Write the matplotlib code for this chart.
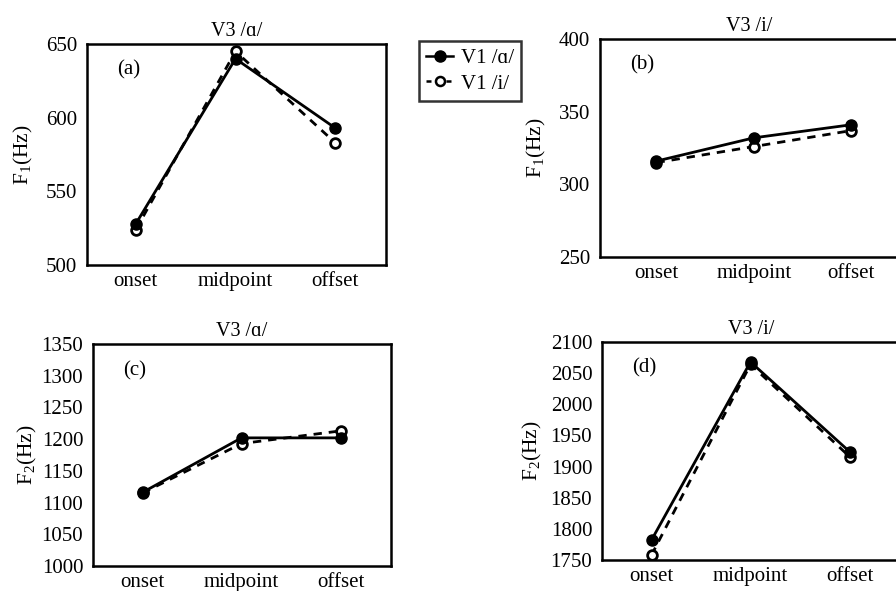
import matplotlib
matplotlib.use("Agg")
import matplotlib.pyplot as plt
from matplotlib.lines import Line2D

plt.rcParams['font.family'] = ['Liberation Serif', 'DejaVu Serif']
plt.rcParams['mathtext.fontset'] = 'custom'
plt.rcParams['mathtext.rm'] = 'Liberation Serif'

categories = ['onset', 'midpoint', 'offset']

# (a) F1, V3 /ɑ/
a_v1a = [528, 640, 593]
a_v1i = [524, 645, 583]
# (b) F1, V3 /i/
b_v1a = [316, 332, 341]
b_v1i = [315, 326, 337]
# (c) F2, V3 /ɑ/
c_v1a = [1116, 1202, 1202]
c_v1i = [1115, 1193, 1213]
# (d) F2, V3 /i/
d_v1a = [1782, 2068, 1924]
d_v1i = [1758, 2064, 1916]

titles = ['V3 /ɑ/', 'V3 /i/', 'V3 /ɑ/', 'V3 /i/']
panel_labels = ['(a)', '(b)', '(c)', '(d)']
ylabels = [r'F$_\mathregular{1}$(Hz)', r'F$_\mathregular{1}$(Hz)',
           r'F$_\mathregular{2}$(Hz)', r'F$_\mathregular{2}$(Hz)']
yticks_list = [[500, 550, 600, 650],
               [250, 300, 350, 400],
               [1000, 1050, 1100, 1150, 1200, 1250, 1300, 1350],
               [1750, 1800, 1850, 1900, 1950, 2000, 2050, 2100]]
series = [(a_v1a, a_v1i), (b_v1a, b_v1i), (c_v1a, c_v1i), (d_v1a, d_v1i)]

W, H = 896, 591
fig = plt.figure(figsize=(W / 100, H / 100), dpi=100)

rects = [(87, 44, 299, 221), (600, 39, 299, 218),
         (93, 344, 298, 222), (602, 342, 299, 218)]
xlims = [(-0.49, 2.51), (-0.58, 2.49), (-0.5, 2.51), (-0.5, 2.52)]
labelpads = [8, 8, 2, 5]
fs = 15

for i in range(4):
    l, t, w, h = rects[i]
    ax = fig.add_axes([l / W, 1 - (t + h) / H, w / W, h / H])
    x = list(range(len(categories)))
    s1, s2 = series[i]
    ax.plot(x, s2, color='black', lw=2.0, ls=(0, (3, 2.5)), marker='o',
            markersize=7, markerfacecolor='white', markeredgecolor='black',
            markeredgewidth=2.0, zorder=3)
    ax.plot(x, s1, color='black', lw=2.0, ls='-', marker='o',
            markersize=8, markerfacecolor='black', markeredgecolor='black',
            zorder=4)
    ax.set_xlim(*xlims[i])
    yt = yticks_list[i]
    ax.set_ylim(yt[0], yt[-1])
    ax.set_yticks(yt)
    ax.set_xticks(x)
    ax.set_xticklabels(categories, fontsize=fs)
    ax.tick_params(axis='y', labelsize=fs, length=0, pad=7)
    ax.tick_params(axis='x', length=0, pad=5)
    for sp in ax.spines.values():
        sp.set_linewidth(1.8)
    ax.set_title(titles[i], fontsize=14.5, pad=6)
    ax.set_ylabel(ylabels[i], fontsize=15.5, labelpad=labelpads[i])
    ax.text(0.1, 0.86, panel_labels[i], transform=ax.transAxes, fontsize=fs)

handles = [Line2D([], [], color='black', lw=1.8, ls='-', marker='o',
                  markersize=8, markerfacecolor='black'),
           Line2D([], [], color='black', lw=1.8, ls=(0, (2, 2)), marker='o',
                  markersize=6.5, markerfacecolor='white', markeredgewidth=1.8)]
leg = fig.legend(handles, ['V1 /ɑ/', 'V1 /i/'], loc='upper left',
                 bbox_to_anchor=(419 / W, 1 - 41 / H), fontsize=fs,
                 frameon=True, fancybox=False, edgecolor='black',
                 handlelength=1.3, handletextpad=0.35, borderpad=0.35,
                 labelspacing=0.3, borderaxespad=0)
leg.get_frame().set_linewidth(1.8)

fig.savefig('out.png', dpi=100)
